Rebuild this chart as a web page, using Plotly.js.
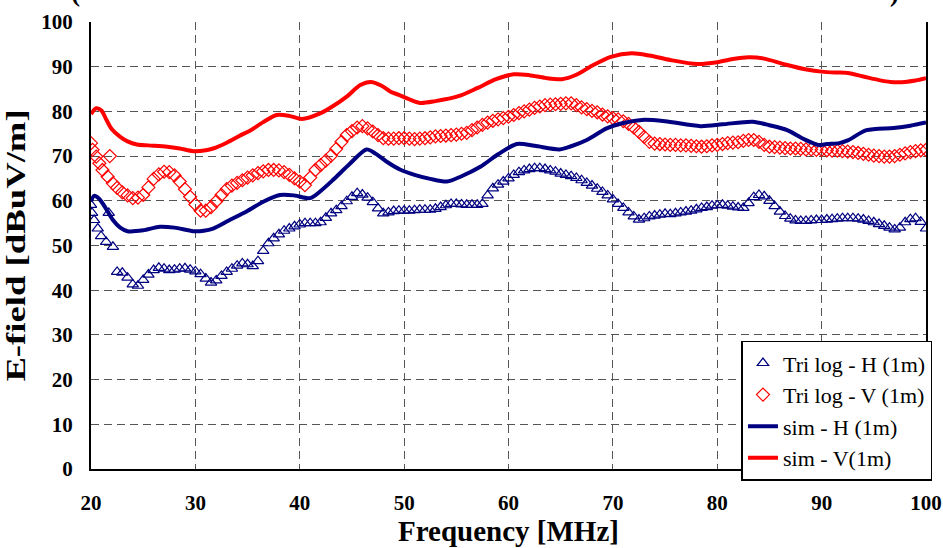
<!DOCTYPE html>
<html>
<head>
<meta charset="utf-8">
<script src="https://cdn.plot.ly/plotly-3.0.1.min.js"></script>
<style>html,body{margin:0;padding:0;background:#fff;}#chart{width:943px;height:548px;}</style>
</head>
<body>
<div id="chart"></div>
<script>
// ---- Data ----
var triHStartFreq = [20.0, 20.1, 20.3, 20.65, 20.97, 21.45, 21.7, 22.1];
var triHStartVal  = [59.1, 57.3, 55.7, 53.8, 52.1, 50.8, 57.3, 49.7];
var triVStartFreq = [20.0, 20.15, 20.5, 20.8, 21.1, 21.6, 21.8, 22.1];
var triVStartVal  = [72.9, 71.4, 69.9, 68.4, 66.9, 65.4, 70.0, 63.9];

var gridFreq = [22.5,23,23.5,24,24.5,25,25.5,26,26.5,27,27.5,28,28.5,29,29.5,30,30.5,31,31.5,32,32.5,33,33.5,34,34.5,35,35.5,36,36.5,37,37.5,38,38.5,39,39.5,40,
40.5,41,41.5,42,42.5,43,43.5,44,44.5,45,45.5,46,46.5,47,47.5,48,48.5,49,49.5,50,50.5,51,51.5,52,52.5,53,53.5,54,54.5,55,55.5,56,56.5,57,57.5,58,58.5,59,59.5,60,
60.5,61,61.5,62,62.5,63,63.5,64,64.5,65,65.5,66,66.5,67,67.5,68,68.5,69,69.5,70,70.5,71,71.5,72,72.5,73,73.5,74,74.5,75,75.5,76,76.5,77,77.5,78,78.5,79,79.5,80,
80.5,81,81.5,82,82.5,83,83.5,84,84.5,85,85.5,86,86.5,87,87.5,88,88.5,89,89.5,90,90.5,91,91.5,92,92.5,93,93.5,94,94.5,95,95.5,96,96.5,97,97.5,98,98.5,99,99.5,100];

var triHGrid = [44.1,43.9,42.8,41.3,41.0,42.3,43.5,44.5,45.0,44.8,44.5,44.6,44.8,44.9,44.6,44.2,43.6,42.6,41.7,42.2,43.2,44.1,44.8,45.5,46.0,45.8,45.4,46.5,48.8,50.5,51.6,52.5,53.3,53.8,54.3,54.7,
55.0,55.0,55.0,55.2,56.2,57.2,57.9,58.8,59.9,60.9,61.7,61.4,60.7,59.7,58.3,57.2,57.4,57.7,57.8,57.8,57.8,57.9,58.0,58.0,58.0,58.2,58.6,59.0,59.3,59.3,59.2,59.1,59.1,59.1,59.3,61.2,62.8,63.6,64.3,65.0,
65.8,66.4,66.8,67.1,67.3,67.3,67.1,66.8,66.5,66.1,65.8,65.5,65.1,64.6,64.0,63.4,62.7,62.0,61.2,60.3,59.3,58.4,57.4,56.5,55.8,56.1,56.5,56.7,56.9,57.1,57.0,57.2,57.4,57.6,57.8,58.1,58.4,58.6,58.9,59.0,
59.1,58.9,58.7,58.5,58.4,59.5,60.8,61.3,61.0,60.0,58.8,57.6,56.6,56.0,55.6,55.5,55.5,55.6,55.7,55.7,55.8,55.9,56.0,56.1,56.1,56.1,56.0,55.8,55.5,55.2,54.8,54.4,54.0,53.6,54.0,55.2,55.9,56.1,55.3,53.8];

var triVGrid = [62.9,61.9,61.2,60.6,60.7,61.3,63.0,64.9,65.9,66.5,66.4,65.7,64.3,62.6,60.9,59.2,57.8,57.8,58.6,59.9,61.3,62.6,63.4,64.0,64.6,65.2,65.7,66.2,66.6,66.9,66.9,66.8,66.4,65.8,65.0,64.3,
63.5,65.2,66.9,68.0,69.0,70.1,71.6,73.2,74.7,75.6,76.4,76.7,76.2,75.5,74.7,74.0,73.9,73.9,74.0,74.0,73.9,73.8,73.9,74.0,74.2,74.4,74.5,74.6,74.7,74.8,75.0,75.2,75.8,76.4,77.0,77.5,77.9,78.2,78.5,78.8,
79.2,79.6,80.0,80.4,80.8,81.1,81.4,81.5,81.6,81.7,81.8,81.8,81.4,80.9,80.5,80.1,79.8,79.3,78.9,78.5,78.2,77.8,77.2,76.4,75.4,74.3,73.2,72.8,72.7,72.6,72.5,72.5,72.4,72.4,72.3,72.2,72.1,72.2,72.4,72.5,
72.7,72.9,73.0,73.1,73.4,73.6,73.6,73.2,72.5,72.1,72.0,71.9,71.8,71.7,71.7,71.6,71.5,71.5,71.4,71.4,71.3,71.2,71.2,71.1,71.0,70.9,70.7,70.5,70.3,70.1,70.0,69.9,69.9,70.0,70.3,70.6,70.9,71.1,71.3,71.4];

var simHFreq = [20,20.3,20.8,21.5,22.1,22.8,23.5,25,26.6,28,29.8,30.8,31.7,33.2,34.9,36.5,38.1,39.5,41,42,43.2,44.8,46.4,47.3,48.3,49.6,51,52.5,54.1,55.5,57.3,59,60.8,62.5,64.9,66,67.5,69.4,70.8,72.8,75,78.4,80.5,83.4,85,86.7,88.3,89.7,90.5,91.7,92.5,94.3,96.9,98.5,100];
var simHVal  = [59.8,61.1,60.4,58.0,55.7,54.0,53.2,53.4,54.2,54.0,53.2,53.3,53.8,55.6,57.6,59.8,61.3,61.2,60.6,62.2,64.7,68.3,71.5,70.5,68.8,67.0,65.8,64.9,64.3,65.5,67.6,70.4,72.7,72.3,71.5,72.2,73.6,76.2,77.3,78.1,77.8,76.7,77.1,77.7,76.9,75.8,73.8,72.5,72.7,72.9,73.5,75.8,76.3,76.8,77.5];

var simVFreq = [20,20.5,21,21.5,22,22.8,23.5,24.4,25.5,27.3,28.5,29.8,31,31.7,33,34.2,35.3,36.5,37.8,39,40.2,42,43.2,44.5,45.8,46.8,47.8,48.7,49.5,50.4,51.5,53,55.2,57,58.8,60.5,62,63.5,65.1,66.5,68,69.8,71.8,73.5,75.5,78.1,80,81.5,83,84.5,86.5,88.7,90,91.3,92.5,94,95.5,96.6,98,99,100];
var simVVal  = [79.4,80.7,80.2,78.0,76.0,74.3,73.3,72.6,72.4,72.1,71.7,71.1,71.3,71.7,73.0,74.5,75.8,77.6,79.2,79.0,78.3,79.6,81.2,83.3,85.9,86.6,85.8,84.4,83.7,82.8,81.9,82.3,83.4,85.2,87.2,88.3,88.1,87.5,87.2,88.2,90.2,92.2,93.0,92.5,91.5,90.6,91.0,91.7,92.1,91.8,90.5,89.3,88.9,88.7,88.6,87.8,87.0,86.6,86.6,86.9,87.4];

var seriesNames = ['Tri log - H (1m)', 'Tri log - V (1m)', 'sim - H (1m)', 'sim - V(1m)'];
var xTickVals = [20,30,40,50,60,70,80,90,100];
var yTickVals = [0,10,20,30,40,50,60,70,80,90,100];

// ---- Build traces ----
var navy = '#000080', red = '#ff0000';
var traces = [
  {x: triHStartFreq.concat(gridFreq), y: triHStartVal.concat(triHGrid), name: seriesNames[0], type: 'scatter', mode: 'markers',
   marker: {symbol: 'triangle-up-open', size: 10, color: navy, line: {width: 1.2, color: navy}}},
  {x: triVStartFreq.concat(gridFreq), y: triVStartVal.concat(triVGrid), name: seriesNames[1], type: 'scatter', mode: 'markers',
   marker: {symbol: 'diamond-open', size: 10, color: red, line: {width: 1.2, color: red}}},
  {x: simHFreq, y: simHVal, name: seriesNames[2], type: 'scatter', mode: 'lines',
   line: {color: navy, width: 4, shape: 'spline', smoothing: 0.8}},
  {x: simVFreq, y: simVVal, name: seriesNames[3], type: 'scatter', mode: 'lines',
   line: {color: red, width: 4, shape: 'spline', smoothing: 0.8}}
];

var fontFam = '"Liberation Serif", "Times New Roman", serif';
var layout = {
  width: 943, height: 548,
  margin: {l: 91, r: 17, t: 22, b: 79, pad: 0, autoexpand: false},
  paper_bgcolor: '#fff', plot_bgcolor: '#fff',
  showlegend: true,
  font: {family: fontFam, color: '#000'},
  xaxis: {
    range: [20, 100], tickvals: xTickVals, ticktext: xTickVals.map(String),
    showgrid: true, gridcolor: '#555', griddash: '8px,5px', gridwidth: 1,
    showline: true, linecolor: '#000', linewidth: 2, mirror: false, zeroline: false,
    ticks: '', ticklabelstandoff: 14,
    tickfont: {family: fontFam, size: 21, color: '#000', weight: 'bold'},
    title: {text: '<b>Frequency [MHz]</b>', font: {family: fontFam, size: 29, color: '#000'}, standoff: 6}
  },
  yaxis: {
    range: [0, 100], tickvals: yTickVals, ticktext: yTickVals.map(String),
    showgrid: true, gridcolor: '#555', griddash: '8px,5px', gridwidth: 1,
    showline: true, linecolor: '#000', linewidth: 2, mirror: true, zeroline: false,
    ticks: '', ticklabelstandoff: 12,
    tickfont: {family: fontFam, size: 21, color: '#000', weight: 'bold'},
    title: {text: '<b>E-field [dBuV/m]</b>', font: {family: fontFam, size: 27, color: '#000'}, standoff: 8}
  },
  legend: {
    x: 0.779, y: 0.287, xanchor: 'left', yanchor: 'top',
    bgcolor: '#fff', bordercolor: '#000', borderwidth: 1.5,
    font: {family: fontFam, size: 22, color: '#000'},
    itemwidth: 30, tracegroupgap: 0
  },
  annotations: [
    {xref: 'paper', yref: 'paper', x: -0.018, y: 1.03, xanchor: 'center', yanchor: 'bottom', text: '<b>(</b>', showarrow: false,
     font: {family: fontFam, size: 27, color: '#000'}},
    {xref: 'paper', yref: 'paper', x: 0.962, y: 1.03, xanchor: 'center', yanchor: 'bottom', text: '<b>)</b>', showarrow: false,
     font: {family: fontFam, size: 27, color: '#000'}}
  ]
};

Plotly.newPlot('chart', traces, layout, {displayModeBar: false, staticPlot: true}).then(function () {
  // The reference's vertical axis title is drawn elongated along its length: stretch it the same way.
  var t = document.querySelector('.g-ytitle text.ytitle');
  if (t) {
    var cx = parseFloat(t.getAttribute('x')), cy = parseFloat(t.getAttribute('y'));
    var tr = t.getAttribute('transform') || '';
    t.setAttribute('transform', tr + ' translate(' + cx + ',' + cy + ') scale(1.36,1) translate(' + (-cx) + ',' + (-cy) + ')');
  }
});
</script>
</body>
</html>
